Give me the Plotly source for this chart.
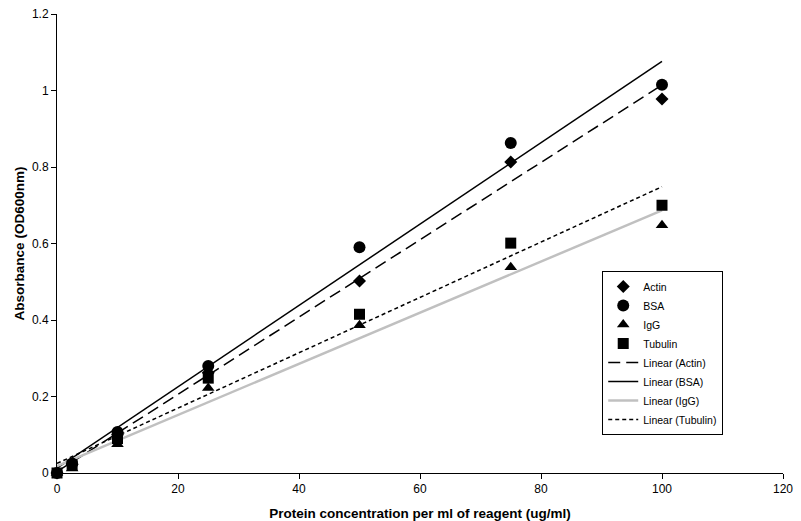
import numpy as np
import plotly.graph_objects as go

conc = [0, 2.5, 10, 25, 50, 75, 100]
actin = [0, 0.022, 0.10, 0.262, 0.502, 0.813, 0.978]
bsa = [0, 0.025, 0.107, 0.28, 0.59, 0.863, 1.015]
igg = [0, 0.012, 0.075, 0.222, 0.386, 0.538, 0.648]
tubulin = [0, 0.02, 0.09, 0.248, 0.415, 0.601, 0.70]

names = ["Actin", "BSA", "IgG", "Tubulin"]
series = [actin, bsa, igg, tubulin]
symbols = ["diamond", "circle", "triangle-up", "square"]
msizes = [10, 12, 11, 11]
line_styles = [
    dict(color="black", width=1.5, dash="12px,6px"),
    dict(color="black", width=1.5, dash="solid"),
    dict(color="#c0c0c0", width=2.5, dash="solid"),
    dict(color="black", width=1.5, dash="4px,3px"),
]

fig = go.Figure()
fit_x = [min(conc), max(conc)]
for k, (n, s, ls) in enumerate(zip(names, series, line_styles)):
    slope, icpt = np.polyfit(conc, s, 1)
    fy = [slope * x + icpt for x in fit_x]
    fig.add_trace(go.Scatter(x=fit_x, y=fy, mode="lines", name=f"Linear ({n})",
                             line=ls, legendrank=10 + k))
for k, (n, s, sym, ms) in enumerate(zip(names, series, symbols, msizes)):
    fig.add_trace(go.Scatter(x=conc, y=s, mode="markers", name=n, cliponaxis=False,
                             marker=dict(symbol=sym, size=ms, color="black"),
                             legendrank=k))

fig.update_layout(
    width=801, height=521,
    margin=dict(l=57, r=18, t=14, b=48),
    paper_bgcolor="white", plot_bgcolor="white",
    font=dict(family="Liberation Sans, Arial, sans-serif", color="black", size=12),
    showlegend=True,
    legend=dict(x=0.751, y=0.440, xanchor="left", yanchor="top",
                bordercolor="black", borderwidth=1, bgcolor="white",
                font=dict(size=10.5), traceorder="normal"),
    xaxis=dict(range=[0, 120], tickvals=[0, 20, 40, 60, 80, 100, 120],
               showline=True, linecolor="black", linewidth=1, ticks="outside",
               ticklen=5, tickcolor="black", showgrid=False, zeroline=False,
               automargin=False,
               title=dict(text="<b>Protein concentration per ml of reagent (ug/ml)</b>",
                          font=dict(size=13.5))),
    yaxis=dict(range=[0, 1.2], tickvals=[0, 0.2, 0.4, 0.6, 0.8, 1.0, 1.2],
               ticktext=["0", "0.2", "0.4", "0.6", "0.8", "1", "1.2"],
               showline=True, linecolor="black", linewidth=1, ticks="outside",
               ticklen=5, tickcolor="black", showgrid=False, zeroline=False,
               automargin=False,
               title=dict(text="<b>Absorbance (OD600nm)</b>", font=dict(size=13.5),
                          standoff=4)),
)

fig.write_html("out.html", config={"displayModeBar": False},
               post_script="document.body.style.margin='0';")
